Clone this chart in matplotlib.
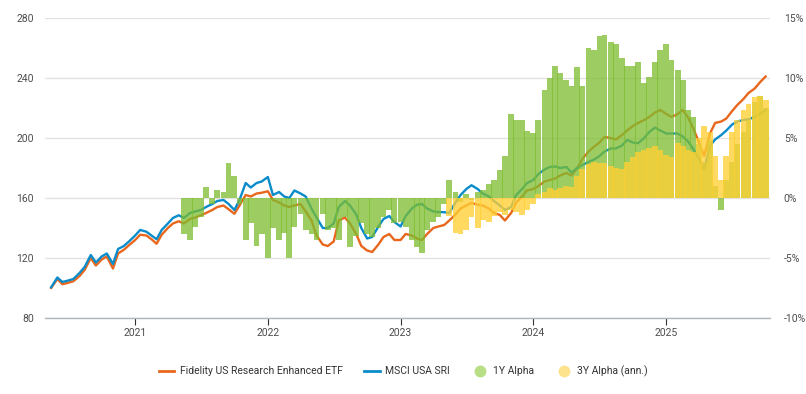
import pandas as pd
import matplotlib
matplotlib.use('Agg')
import matplotlib.pyplot as plt
import matplotlib.dates as mdates
from matplotlib.lines import Line2D
from matplotlib.ticker import FuncFormatter

plt.rcParams['font.family'] = ['Roboto', 'DejaVu Sans']

# semi-monthly observations, mid May 2020 .. Oct 2025
dates = pd.date_range('2020-05-15', periods=130, freq='SMS')

# Fidelity US Research Enhanced ETF (rebased to 100)
fund = [100, 106, 102.5, 103.5, 104.5, 108, 112, 120, 115, 119,
        121, 113, 123, 125.5, 128.5, 132, 135.5, 135, 132.5, 129.5,
        135.5, 140, 143, 144.5, 143, 146, 147, 148.5, 150, 152,
        154, 155, 152.5, 149.5, 155, 162, 161, 163, 163.5, 164.5,
        158.7, 157, 155, 154, 155, 156, 151, 145, 135, 129,
        128, 131, 145, 147, 143, 136, 128, 125, 124, 129,
        134, 136, 132, 132, 136, 135, 133, 132, 136, 140,
        141, 142, 145, 149, 153, 155, 156.7, 155.5, 155, 153,
        150, 148.7, 145, 150, 157, 161, 165, 166, 168, 171,
        172, 173, 175, 176.7, 175, 180, 186, 191, 194, 197,
        200.7, 200, 199, 202, 205, 208, 210, 212, 214, 217,
        218.7, 216, 214, 216, 218.7, 214, 207, 197, 188, 203,
        210, 211, 213, 218, 222, 226, 230, 233, 237, 241]

# MSCI USA SRI (rebased to 100)
index = [100.5, 107, 104, 105, 106, 110, 114, 122, 117, 121,
         123, 116, 126, 128, 131, 135, 138.7, 137.5, 135, 132.5,
         138.7, 143, 146.7, 148.5, 146.7, 150, 151, 152, 154, 156,
         158, 158.7, 156, 152, 158.7, 170, 167, 170, 171, 174,
         162, 164, 161, 160, 165, 163, 161, 153, 147, 140,
         140, 143, 154, 158, 155, 149, 140, 133, 134, 141,
         146, 148, 144, 141, 148, 153, 155.5, 156, 153, 151,
         150.7, 150.5, 150, 157, 162, 166, 168.5, 166, 163, 161,
         158, 155, 152, 154, 162, 166, 170, 172, 176, 179,
         180.7, 181, 180, 180.7, 177, 180, 182, 184, 185.5, 188,
         191, 193, 193, 195, 198.7, 197, 196.5, 200, 204, 207,
         205, 203, 203, 203, 201, 198, 193, 186, 179, 194.7,
         199, 202, 205, 209, 211, 212, 212.5, 214, 216, 218.7]

# 1Y alpha (%), from May 2021
alpha_1y = [-3.0, -3.5, -2.4, -1.6, 0.9, -0.5, 0.7, 0.5, 2.9, 1.8,
            -0.5, -3.5, -2.1, -4.0, -3.0, -5.0, -2.5, -3.5, -2.9, -5.0,
            -2.4, -1.3, -2.7, -3.0, -3.5, -1.3, -2.7, -2.5, -3.5, -1.6,
            -4.1, -3.2, -2.1, -3.0, -3.25, -2.5, -1.6, -1.0, -2.1, -2.0,
            -2.4, -3.5, -4.1, -4.6, -2.7, -2.0, -1.6, -0.5, 1.5, 0.5,
            -0.3, 0.3, -0.2, 0.5, 0.7, 1.2, 1.5, 2.3, 3.5, 7.0,
            6.5, 6.5, 5.6, 5.4, 6.5, 9.0, 10.0, 11.0, 10.4, 9.8,
            9.3, 10.9, 9.3, 12.5, 12.3, 13.5, 13.6, 13.0, 12.8, 11.7,
            11.0, 11.0, 11.3, 9.6, 10.1, 11.3, 12.3, 12.8, 11.5, 10.7,
            9.8, 7.3, 6.75, 4.5, 3.0, 4.8, 1.0, -1.0, 1.5, 3.0,
            4.5, 5.5, 6.5, 8.0, 8.5, 7.5]

# 3Y alpha annualised (%), from May 2023
alpha_3y = [-1.5, -2.9, -3.0, -2.7, -1.6, -2.5, -1.8, -2.0, -1.5, -1.2,
            -1.4, -1.0, -1.2, -1.4, -1.0, -0.5, 0.3, 0.5, 0.8, 0.7,
            0.8, 1.0, 0.9, 1.8, 2.4, 2.8, 3.0, 2.9, 2.9, 2.7,
            2.5, 2.4, 3.0, 3.4, 3.8, 4.0, 4.2, 4.3, 4.0, 3.6,
            3.4, 4.6, 4.3, 4.0, 3.8, 5.0, 6.0, 5.5, 3.5, 1.5,
            3.5, 5.5, 6.5, 7.3, 7.8, 8.4, 8.5, 8.2]

c_fund = '#e8671c'
c_index = '#0b8cca'
c_1y = '#7dbd2e'
c_3y = '#ffcf33'
txt = '#4d4d4d'

fig = plt.figure(figsize=(8.06, 3.94), dpi=100)
ax = fig.add_axes([0.0558, 0.1929, 0.8995, 0.7614])
ax2 = ax.twinx()

ax.plot(dates, fund, color=c_fund, lw=1.7, zorder=2)
ax.plot(dates, index, color=c_index, lw=1.7, zorder=3)

# bars slightly wider than the spacing, like the dense daily bars
ax2.bar(dates[len(dates) - len(alpha_1y):], alpha_1y, width=16,
        color=c_1y, alpha=0.75, lw=0)
ax2.bar(dates[len(dates) - len(alpha_3y):], alpha_3y, width=16,
        color=c_3y, alpha=0.78, lw=0)

ax.set_ylim(80, 280)
ax.set_yticks(range(80, 281, 40))
ax2.set_ylim(-10, 15)
ax2.set_yticks(range(-10, 16, 5))
ax2.yaxis.set_major_formatter(FuncFormatter(lambda v, p: f'{v:.0f}%'))
ax.set_xlim(pd.Timestamp('2020-04-28'), pd.Timestamp('2025-10-13'))
ax.xaxis.set_major_locator(mdates.YearLocator())
ax.xaxis.set_major_formatter(mdates.DateFormatter('%Y'))

for a in (ax, ax2):
    for s in a.spines.values():
        s.set_visible(False)
ax.spines['bottom'].set_visible(True)
ax.spines['bottom'].set_color('#b0b5ba')
ax.spines['bottom'].set_linewidth(1)

ax.grid(axis='y', color='#e2e2e2', lw=1)
ax.set_axisbelow(True)
ax.tick_params(axis='y', length=0, pad=8, labelsize=7.5, labelcolor=txt)
ax2.tick_params(axis='y', length=0, pad=10, labelsize=7.5, labelcolor=txt)
ax.tick_params(axis='x', length=5, width=0.8, color='#333333', pad=2,
               labelsize=7.5, labelcolor=txt)

handles = [Line2D([0], [0], color=c_fund, lw=2),
           Line2D([0], [0], color=c_index, lw=2),
           Line2D([0], [0], marker='o', ls='', ms=7.5, color='#b9df86'),
           Line2D([0], [0], marker='o', ls='', ms=7.5, color='#fde38b')]
labels = ['Fidelity US Research Enhanced ETF', 'MSCI USA SRI',
          '1Y Alpha', '3Y Alpha (ann.)']
leg = fig.legend(handles, labels, loc='center', bbox_to_anchor=(0.5, 1 - 371 / 394),
                 ncol=4, frameon=False, fontsize=7.5, handlelength=1.5,
                 handletextpad=0.5, columnspacing=2.1)
for t in leg.get_texts():
    t.set_color('#333333')

fig.savefig('out.png', dpi=100)
